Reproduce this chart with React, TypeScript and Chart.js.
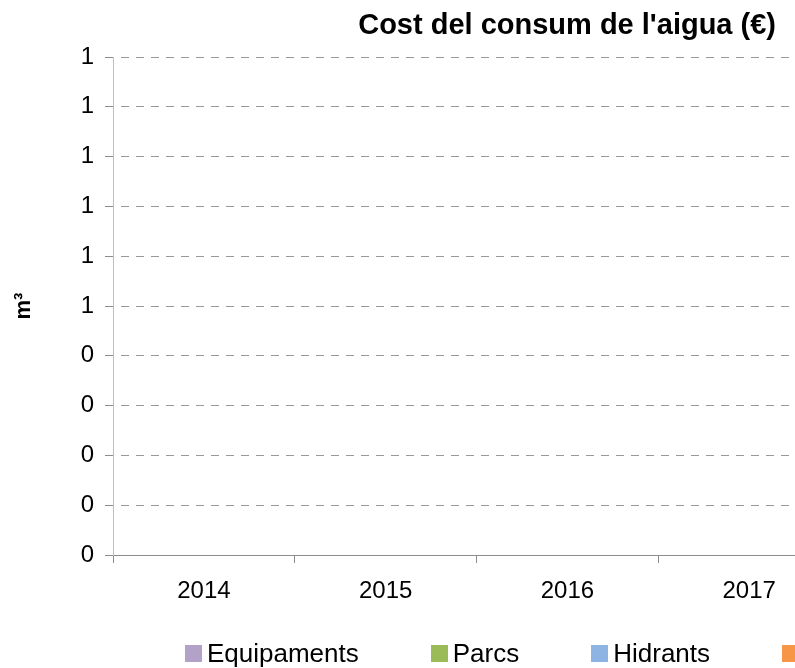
import React, { useEffect, useRef } from 'react';
import { Chart, registerables } from 'chart.js';

Chart.register(...registerables);

const FONT = "'Liberation Sans', Arial, Helvetica, sans-serif";

const categories = ['2014', '2015', '2016', '2017'];
const seriesNames = ['Equipaments', 'Parcs', 'Hidrants', 'Fonts'];
const seriesColors = ['#b3a2c7', '#9bbb59', '#8eb4e3', '#f79646'];
const equipaments = [0, 0, 0, 0];
const parcs = [0, 0, 0, 0];
const hidrants = [0, 0, 0, 0];
const fonts = [0, 0, 0, 0];
const yTickLabels = ['0', '0', '0', '0', '0', '1', '1', '1', '1', '1', '1'];
const chartTitle = "Cost del consum de l'aigua (€)";
const yAxisTitle = 'm³';

const seriesValues = [equipaments, parcs, hidrants, fonts];

export default function App() {
  const canvasRef = useRef<HTMLCanvasElement | null>(null);

  useEffect(() => {
    if (!canvasRef.current) return;
    Chart.defaults.font.family = FONT;
    const chart = new Chart(canvasRef.current, {
      type: 'bar',
      data: {
        labels: categories,
        datasets: seriesNames.map((name, i) => ({
          label: name,
          data: seriesValues[i],
          backgroundColor: seriesColors[i],
          borderWidth: 0,
        })),
      },
      options: {
        responsive: false,
        animation: false,
        layout: { padding: { top: 57, right: 20, bottom: 53, left: 0 } },
        plugins: {
          legend: { display: false },
          title: { display: false },
          tooltip: { enabled: false },
        },
        scales: {
          x: {
            offset: true,
            grid: {
              display: true,
              offset: true,
              drawOnChartArea: false,
              drawTicks: true,
              tickLength: 8,
              color: '#8c8c8c',
            },
            border: { display: true, color: '#8c8c8c', width: 1 },
            ticks: {
              color: '#000',
              font: { size: 24 },
              padding: 14,
              maxRotation: 0,
              autoSkip: false,
            },
            afterFit: (s: any) => {
              s.height = 60;
            },
          },
          y: {
            min: 0,
            max: 1,
            ticks: {
              stepSize: 0.1,
              color: '#000',
              font: { size: 24 },
              padding: 11,
              callback: (_v: any, i: number) => yTickLabels[i],
            },
            grid: {
              color: '#999999',
              tickColor: '#8c8c8c',
              tickLength: 8,
              tickBorderDash: [],
            },
            border: { display: true, color: '#bfbfbf', width: 1, dash: [8, 7], dashOffset: 8 },
            title: {
              display: true,
              text: yAxisTitle,
              color: '#000',
              font: { size: 22, weight: 'bold' },
              padding: { top: 11, bottom: 0 },
            },
            afterFit: (s: any) => {
              s.width = 113;
            },
          },
        },
      } as any,
    });
    return () => chart.destroy();
  }, []);

  return (
    <div
      style={{
        position: 'fixed',
        left: 0,
        top: 0,
        width: 795,
        height: 668,
        overflow: 'hidden',
        background: '#fff',
        fontFamily: FONT,
        color: '#000',
      }}
    >
      <canvas
        ref={canvasRef}
        width={860}
        height={668}
        style={{ position: 'absolute', left: 0, top: 0 }}
      />
      <div
        style={{
          position: 'absolute',
          right: 19,
          top: 8,
          fontSize: 29,
          fontWeight: 'bold',
          lineHeight: '33px',
          whiteSpace: 'nowrap',
        }}
      >
        {chartTitle}
      </div>
      <div
        style={{
          position: 'absolute',
          left: 185,
          top: 640,
          height: 27,
          width: 'max-content',
          display: 'flex',
          alignItems: 'center',
          whiteSpace: 'nowrap',
          fontSize: 26,
        }}
      >
        {seriesNames.map((n, i) => (
          <div
            key={n}
            style={{ display: 'flex', alignItems: 'center', marginRight: 72, flexShrink: 0 }}
          >
            <span
              style={{
                width: 17,
                height: 17,
                background: seriesColors[i],
                display: 'inline-block',
                marginRight: 5,
                flexShrink: 0,
              }}
            />
            <span>{n}</span>
          </div>
        ))}
      </div>
    </div>
  );
}
